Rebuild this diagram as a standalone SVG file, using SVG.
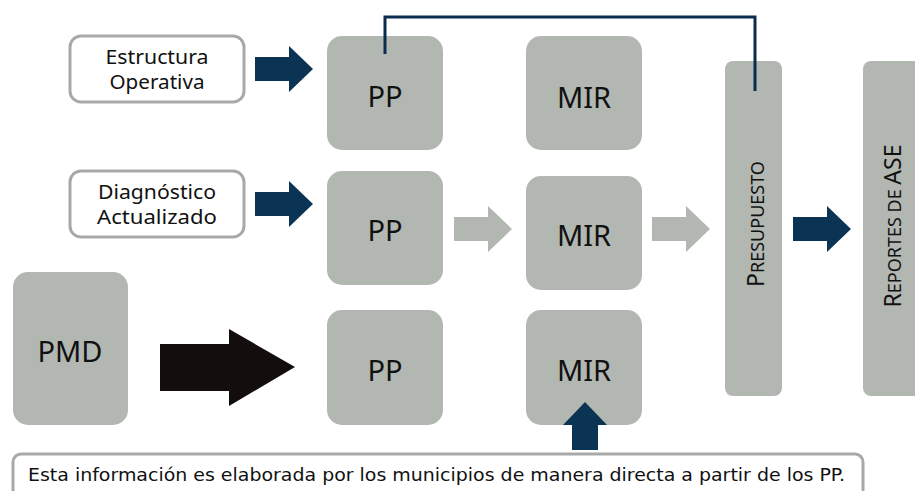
<svg xmlns="http://www.w3.org/2000/svg" width="915" height="491" viewBox="0 0 915 491">
<style>
.n{fill:#b3b7b1}
.b{fill:#fff;stroke:#a7a9a7;stroke-width:3}
.t{font-family:"Noto Sans","Open Sans",sans-serif;fill:#111;text-anchor:middle}
.big{font-size:29px}
.sm{font-size:19px}
.nv{fill:#0b3454}
.gr{fill:#b3b7b1}
</style>
<defs>
<path id="arr" d="M0,-12 H34 V-23 L58,0 L34,23 V12 H0 Z"/>
</defs>
<rect width="915" height="491" fill="#fff"/>
<g id="estructura"><rect class="b" x="70" y="36" width="174" height="66" rx="11"/>
<text class="t sm" x="157" y="64" textLength="103" lengthAdjust="spacingAndGlyphs">Estructura</text><text class="t sm" x="157" y="89" textLength="95" lengthAdjust="spacingAndGlyphs">Operativa</text></g>
<g id="diagnostico"><rect class="b" x="70" y="171" width="174" height="66" rx="11"/>
<text class="t sm" x="157" y="199" textLength="118" lengthAdjust="spacingAndGlyphs">Diagnóstico</text><text class="t sm" x="157" y="224" textLength="120" lengthAdjust="spacingAndGlyphs">Actualizado</text></g>
<g id="pmd"><rect class="n" x="13" y="272" width="115" height="153" rx="15"/><text class="t big" x="70" y="362">PMD</text></g>
<g id="pp1"><rect class="n" x="327" y="36" width="116" height="114" rx="15"/><text class="t big" x="385" y="107">PP</text></g>
<g id="pp2"><rect class="n" x="327" y="171" width="116" height="114" rx="15"/><text class="t big" x="385" y="241">PP</text></g>
<g id="pp3"><rect class="n" x="327" y="310" width="116" height="115" rx="15"/><text class="t big" x="385" y="381">PP</text></g>
<g id="mir1"><rect class="n" x="526" y="36" width="116" height="114" rx="15"/><text class="t big" x="584" y="108">MIR</text></g>
<g id="mir2"><rect class="n" x="526" y="176" width="116" height="114" rx="15"/><text class="t big" x="584" y="246">MIR</text></g>
<g id="mir3"><rect class="n" x="526" y="310" width="116" height="115" rx="15"/><text class="t big" x="584" y="381">MIR</text></g>
<g id="presupuesto"><rect class="n" x="725" y="61" width="57" height="335" rx="8"/>
<text class="t" transform="translate(764,224) rotate(-90)" style="font-size:23px">P<tspan style="font-size:18px">RESUPUESTO</tspan></text></g>
<g id="reportes"><rect class="n" x="863" y="61" width="60" height="335" rx="8"/>
<text class="t" transform="translate(901,226) rotate(-90)" style="font-size:23px">R<tspan style="font-size:18px">EPORTES DE </tspan>ASE</text></g>
<g id="nota"><rect class="b" x="13" y="454" width="850" height="50" rx="8"/>
<text x="28" y="481" style="font-family:'DejaVu Sans Condensed','DejaVu Sans',sans-serif;font-size:17px;fill:#111" textLength="817" lengthAdjust="spacingAndGlyphs">Esta información es elaborada por los municipios de manera directa a partir de los PP.</text></g>
<g id="connectors">
<polyline points="385,54 385,17 755,17 755,91" fill="none" stroke="#0b2c4e" stroke-width="3"/>
<use href="#arr" class="nv" x="255" y="69"/>
<use href="#arr" class="nv" x="255" y="204"/>
<use href="#arr" class="gr" x="454" y="229"/>
<use href="#arr" class="gr" x="652" y="229"/>
<use href="#arr" class="nv" x="793" y="229"/>
<path d="M160,344 H229 V329 L295,367 L229,406 V391 H160 Z" fill="#130d0d"/>
<path d="M572,450 V425 H563 L585,402 L607,425 H598 V450 Z" fill="#0b3454"/>
</g>
</svg>
